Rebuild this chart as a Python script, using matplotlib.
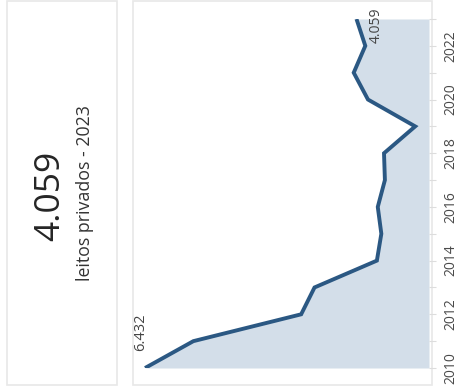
import matplotlib
matplotlib.use("Agg")
import matplotlib.pyplot as plt
from matplotlib.patches import Rectangle

plt.rcParams['font.family'] = ['Open Sans', 'DejaVu Sans']

# Private hospital beds per year
years = [2010, 2011, 2012, 2013, 2014, 2015, 2016, 2017, 2018, 2019, 2020, 2021, 2022, 2023]
leitos = [6432, 5890, 4680, 4530, 3830, 3780, 3820, 3740, 3750, 3400, 3930, 4090, 3960, 4059]
year_ticks = [2010, 2012, 2014, 2016, 2018, 2020, 2022]
kpi_value = "4.059"
kpi_label = "leitos privados - 2023"


def fmt(v):
    return f"{v:,}".replace(",", ".")


W, H = 458, 390
fig = plt.figure(figsize=(W / 100, H / 100), dpi=100)
fig.patch.set_facecolor("white")


def fig_rect(x0, y0, x1, y1):
    """Pixel box (top-left origin) -> figure fraction [l, b, w, h]."""
    return [x0 / W, (H - y1) / H, (x1 - x0) / W, (y1 - y0) / H]


# Card outlines
for box in [(7, 1, 117, 385), (133, 1, 432, 385)]:
    l, b, w, h = fig_rect(*box)
    fig.add_artist(Rectangle((l, b), w, h, transform=fig.transFigure,
                             facecolor="white", edgecolor="#e8e8e8", lw=1.2, zorder=0))

# KPI card text
fig.text(50 / W, 1 - 196 / H, kpi_value, rotation=90, ha="center", va="center",
         fontsize=25.5, color="#252525")
fig.text(85 / W, 1 - 193 / H, kpi_label, rotation=90, ha="center", va="center",
         fontsize=12.8, color="#333333")

# Area chart, drawn with years running upward and values increasing leftward
ax = fig.add_axes(fig_rect(135, 19, 429, 368))
ax.set_facecolor("none")
vmin, vmax = 3245, 6545
line_color = "#2b5883"
ax.fill_betweenx(years, leitos, vmin, color="#d3dee9", lw=0, zorder=1)
ax.plot(leitos, years, color=line_color, lw=2.8, solid_capstyle="butt",
        solid_joinstyle="miter", zorder=2)
ax.set_xlim(vmax, vmin)
ax.set_ylim(years[0], years[-1])

for s in ax.spines.values():
    s.set_visible(False)
ax.set_xticks([])
ax.yaxis.tick_right()
ax.set_yticks(year_ticks)
ax.set_yticks(years, minor=True)
ax.set_yticklabels([str(y) for y in year_ticks], rotation=90, va="center",
                   fontsize=10, color="#4a4a4a")
ax.tick_params(axis="y", which="both", length=5, width=0.8, color="#dddddd", pad=5,
               direction="out")

# Value labels at the first and last points
ax.annotate(fmt(leitos[0]), (leitos[0], years[0]), xytext=(-4, 36),
            textcoords="offset pixels", rotation=90, ha="center", va="center",
            fontsize=10.5, color="#444444", annotation_clip=False)
ax.annotate(fmt(leitos[-1]), (leitos[-1], years[-1]), xytext=(20, -6),
            textcoords="offset pixels", rotation=90, ha="center", va="center",
            fontsize=10, color="#444444", annotation_clip=False)

fig.savefig("out.png", dpi=100)
